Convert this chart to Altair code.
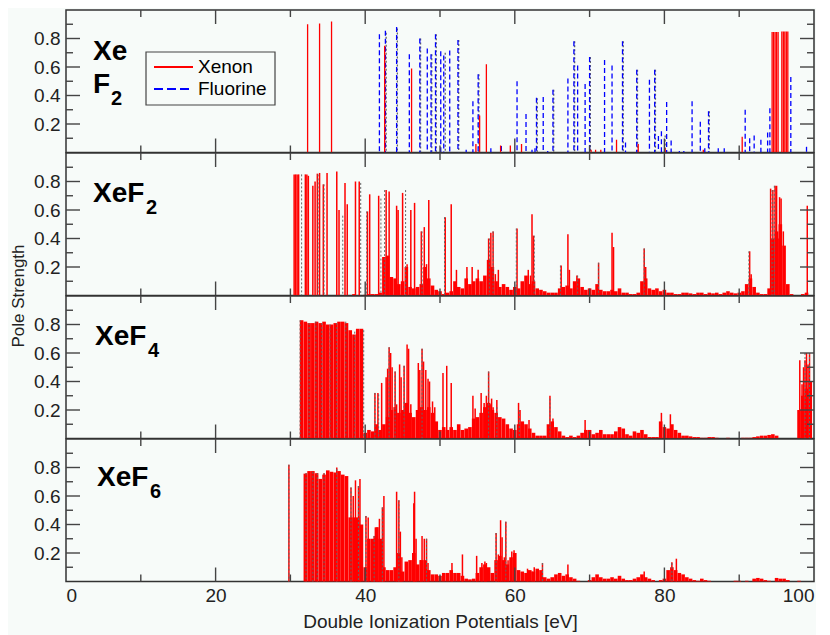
import altair as alt
import pandas as pd

FONT = "Liberation Sans"
RED = "#ff0000"
BLUE = "#0000ff"
GRAY = "#666666"
TICK = "#444444"
BG = "#f7fbf9"

# ---------------- data ----------------
# panel 1 (Xe F2 decomposition)
XE_X = [32.3, 33.9, 35.5, 42.6, 46.2, 54.8, 55.3, 56.2, 58.1, 59.4, 60.9, 70.2, 70.8, 71.5, 73.6,
        76.5, 80.1, 85.2, 90.4, 94.4, 94.6, 94.8, 95.0, 95.2, 95.7, 95.9, 96.1, 96.3, 96.5]
XE_Y = [0.90, 0.905, 0.92, 0.75, 0.59, 0.06, 0.26, 0.62, 0.05, 0.05, 0.06, 0.02, 0.02, 0.02, 0.09,
        0.06, 0.03, 0.02, 0.11, 0.845, 0.845, 0.845, 0.845, 0.845, 0.85, 0.85, 0.85, 0.85, 0.85]
FL_X = [41.9, 42.7, 44.2, 45.9, 47.3, 48.3, 48.8, 49.4, 50.1, 50.5, 51.3, 52.4, 53.5, 54.4, 55.1,
        56.8, 58.2, 60.3, 61.5, 62.3, 62.7, 62.9, 63.8, 64.4, 65.1, 67.1, 67.9, 68.4, 69.4, 70.0,
        72.0, 73.0, 74.4, 74.8, 76.3, 78.0, 78.7, 79.2, 79.6, 80.3, 80.9, 82.0, 82.6, 83.7, 84.8,
        85.4, 85.9, 87.2, 88.0, 90.8, 91.4, 92.0, 92.9, 93.8, 94.1, 96.9, 99.0]
FL_Y = [0.83, 0.855, 0.88, 0.69, 0.80, 0.73, 0.69, 0.83, 0.71, 0.68, 0.715, 0.79, 0.02, 0.36, 0.55,
        0.03, 0.045, 0.50, 0.27, 0.02, 0.03, 0.385, 0.39, 0.01, 0.44, 0.52, 0.78, 0.61, 0.48, 0.67,
        0.65, 0.61, 0.78, 0.07, 0.58, 0.51, 0.58, 0.115, 0.15, 0.355, 0.085, 0.01, 0.01, 0.36, 0.215,
        0.03, 0.29, 0.03, 0.03, 0.30, 0.1, 0.12, 0.09, 0.14, 0.31, 0.53, 0.04]
TO_X = [42.8, 44.3, 47.4, 48.9, 49.5, 50.7, 52.5, 55.2, 63.0, 65.2, 68.0, 70.1, 74.5, 76.4, 78.8, 80.1, 86.0]
TO_Y = [0.84, 0.87, 0.80, 0.69, 0.83, 0.70, 0.79, 0.55, 0.38, 0.44, 0.78, 0.67, 0.78, 0.58, 0.58, 0.12, 0.29]

# dense low-lying states, read in 0.5 eV bins
BAND_X = [
    30.0, 30.5, 31.0, 31.5, 32.0, 32.5, 33.0, 33.5, 34.0, 34.5,
    35.0, 35.5, 36.0, 36.5, 37.0, 37.5, 38.0, 38.5, 39.0, 39.5,
    40.0, 40.5, 41.0, 41.5, 42.0, 42.5, 43.0, 43.5, 44.0, 44.5,
    45.0, 45.5, 46.0, 46.5, 47.0, 47.5, 48.0, 48.5, 49.0, 49.5,
    50.0, 50.5, 51.0, 51.5, 52.0, 52.5, 53.0, 53.5, 54.0, 54.5,
    55.0, 55.5, 56.0, 56.5, 57.0, 57.5, 58.0, 58.5, 59.0, 59.5,
    60.0, 60.5, 61.0, 61.5, 62.0, 62.5, 63.0, 63.5, 64.0, 64.5,
    65.0, 65.5, 66.0, 66.5, 67.0, 67.5, 68.0, 68.5, 69.0, 69.5,
    70.0, 70.5, 71.0, 71.5, 72.0, 72.5, 73.0, 73.5, 74.0, 74.5,
    75.0, 75.5, 76.0, 76.5, 77.0, 77.5, 78.0, 78.5, 79.0, 79.5,
    80.0, 80.5, 81.0, 81.5, 82.0, 82.5, 83.0, 83.5, 84.0, 84.5,
    85.0, 85.5, 86.0, 86.5, 87.0, 87.5, 88.0, 88.5, 89.0, 89.5,
    90.0, 90.5, 91.0, 91.5, 92.0, 92.5, 93.0, 93.5, 94.0, 94.5,
    95.0, 95.5, 96.0, 96.5, 97.0, 97.5, 98.0, 98.5, 99.0, 99.5,
]
P2_BAND = [
    0, 0, 0, 0, 0, 0, 0, 0, 0, 0,
    0, 0, 0, 0, 0, 0, 0, 0.01, 0, 0,
    0.005, 0.01, 0.01, 0.01, 0.02, 0.27, 0.28, 0.13, 0.12, 0.08,
    0.1, 0.2, 0.06, 0.05, 0.06, 0.08, 0.2, 0.12, 0.07, 0.04,
    0.03, 0.01, 0.02, 0.03, 0.1, 0.06, 0.05, 0.12, 0.08, 0.1,
    0.12, 0.1, 0.14, 0.25, 0.2, 0.1, 0.06, 0.08, 0.06, 0.04,
    0.06, 0.05, 0.1, 0.14, 0.08, 0.1, 0.05, 0.04, 0.03, 0.02,
    0.02, 0.02, 0.05, 0.06, 0.07, 0.05, 0.1, 0.12, 0.06, 0.04,
    0.05, 0.04, 0.08, 0.04, 0.03, 0.03, 0.04, 0.03, 0.05, 0.02,
    0.02, 0.01, 0.01, 0.02, 0.1, 0.12, 0.05, 0.04, 0.05, 0.03,
    0.04, 0.02, 0.02, 0.01, 0.01, 0.02, 0.02, 0.015, 0.01, 0.02,
    0.02, 0.01, 0.02, 0.015, 0.02, 0.01, 0.02, 0.03, 0.02, 0.015,
    0.02, 0.03, 0.08, 0.12, 0.06, 0.02, 0.01, 0.01, 0.05, 0.4,
    0.45, 0.5, 0.35, 0.08, 0.01, 0, 0, 0.01, 0.02, 0,
]
P3_BAND = [
    0, 0, 0, 0.83, 0.82, 0.81, 0.81, 0.82, 0.81, 0.82,
    0.80, 0.80, 0.81, 0.82, 0.82, 0.81, 0.76, 0.73, 0.77, 0.77,
    0.04, 0.06, 0.05, 0.1, 0.06, 0.1, 0.15, 0.2, 0.22, 0.18,
    0.2, 0.25, 0.18, 0.15, 0.2, 0.22, 0.2, 0.22, 0.18, 0.12,
    0.06, 0.08, 0.06, 0.08, 0.06, 0.1, 0.06, 0.07, 0.08, 0.14,
    0.15, 0.18, 0.22, 0.25, 0.2, 0.18, 0.15, 0.14, 0.1, 0.07,
    0.06, 0.1, 0.12, 0.1, 0.07, 0.04, 0.02, 0.02, 0.02, 0.1,
    0.12, 0.08, 0.05, 0.02, 0.01, 0.02, 0.01, 0.02, 0.04, 0.06,
    0.06, 0.03, 0.04, 0.06, 0.03, 0.03, 0.03, 0.05, 0.08, 0.07,
    0.03, 0.02, 0.05, 0.04, 0.06, 0.03, 0.01, 0.01, 0.01, 0.12,
    0.08, 0.07, 0.1, 0.06, 0.04, 0.02, 0.02, 0.015, 0.01, 0.01,
    0.005, 0.005, 0.01, 0.01, 0.005, 0, 0, 0.005, 0, 0,
    0, 0.005, 0.005, 0.005, 0.01, 0.015, 0.02, 0.02, 0.025, 0.03,
    0.02, 0, 0, 0, 0, 0, 0.2, 0.3, 0.35, 0.4,
]
P4_BAND = [
    0, 0, 0, 0, 0.757, 0.775, 0.775, 0.76, 0.72, 0.75,
    0.78, 0.77, 0.765, 0.775, 0.75, 0.74, 0.45, 0.45, 0.45, 0.4,
    0.1, 0.3, 0.3, 0.38, 0.3, 0.1, 0.08, 0.08, 0.1, 0.2,
    0.07, 0.14, 0.15, 0.2, 0.12, 0.15, 0.15, 0.08, 0.05, 0.05,
    0.04, 0.06, 0.06, 0.08, 0.06, 0.06, 0.04, 0.02, 0.015, 0.02,
    0.06, 0.1, 0.12, 0.1, 0.06, 0.15, 0.18, 0.15, 0.12, 0.17,
    0.2, 0.08, 0.07, 0.06, 0.08, 0.07, 0.09, 0.08, 0.03, 0.02,
    0.03, 0.05, 0.06, 0.04, 0.05, 0.03, 0.02, 0.005, 0, 0,
    0.01, 0.03, 0.05, 0.03, 0.02, 0.02, 0.03, 0.02, 0.04, 0.02,
    0.01, 0.01, 0.02, 0.03, 0.05, 0.03, 0.02, 0.01, 0, 0.01,
    0.02, 0.08, 0.1, 0.08, 0.06, 0.05, 0.03, 0.02, 0.01, 0.005,
    0.02, 0.01, 0.005, 0, 0, 0, 0, 0, 0, 0.005,
    0.005, 0, 0.005, 0, 0.02, 0.025, 0.02, 0.01, 0.005, 0,
    0.025, 0.02, 0.02, 0.01, 0, 0, 0.005, 0, 0, 0,
]

# distinct strong lines
P2_X = [30.5, 30.7, 30.9, 31.1, 32.0, 32.2, 32.4, 33.0, 33.3, 33.6, 33.9, 34.4, 34.9, 36.2, 36.5,
        37.3, 37.6, 38.7, 39.2, 40.3, 40.6, 41.8, 42.8, 43.2, 44.2, 44.4, 45.0, 45.6, 46.1, 46.6,
        47.5, 47.9, 48.2, 48.5, 50.7, 51.5, 52.2, 53.6, 54.3, 55.1, 56.5, 56.8, 57.1, 57.4, 57.8,
        60.3, 61.8, 62.1, 62.3, 62.5, 66.2, 67.1, 67.3, 68.3, 71.2, 73.0, 73.2, 77.3, 77.5, 91.4,
        91.6, 94.2, 94.5, 94.8, 95.0, 95.2, 95.4, 95.6, 95.9, 99.1]
P2_Y = [0.85, 0.85, 0.85, 0.85, 0.85, 0.85, 0.84, 0.77, 0.80, 0.855, 0.86, 0.78, 0.86, 0.87, 0.60,
        0.79, 0.64, 0.80, 0.80, 0.59, 0.71, 0.70, 0.74, 0.73, 0.63, 0.60, 0.72, 0.22, 0.60, 0.65,
        0.45, 0.48, 0.22, 0.67, 0.55, 0.64, 0.18, 0.20, 0.20, 0.18, 0.40, 0.44, 0.45, 0.15, 0.18,
        0.47, 0.18, 0.14, 0.57, 0.42, 0.21, 0.43, 0.18, 0.14, 0.23, 0.44, 0.34, 0.33, 0.20, 0.31,
        0.15, 0.75, 0.74, 0.77, 0.77, 0.40, 0.69, 0.68, 0.45, 0.63]
P2_GX = [31.5, 33.7, 34.5, 37.0, 39.4, 40.2, 42.1, 42.6, 45.4, 47.6, 50.6, 56.6, 57.1, 60.2, 62.6,
         66.1, 68.4, 71.2, 77.3, 91.3, 94.4, 94.7]
P2_GY = [0.85, 0.85, 0.78, 0.56, 0.79, 0.59, 0.68, 0.74, 0.74, 0.45, 0.55, 0.40, 0.45, 0.47, 0.42,
         0.21, 0.14, 0.23, 0.33, 0.31, 0.74, 0.77]

P3_X = [41.3, 41.7, 42.2, 42.8, 43.0, 43.2, 43.4, 43.6, 44.0, 44.2, 44.6, 44.8, 45.2, 45.6, 45.8,
        46.1, 47.1, 47.3, 47.6, 47.8, 48.1, 48.4, 48.6, 49.0, 49.3, 50.4, 50.9, 51.5, 54.4, 54.7,
        55.5, 55.9, 56.2, 56.5, 56.7, 56.9, 57.1, 57.6, 60.5, 60.7, 61.9, 64.7, 65.1, 69.4, 79.6,
        80.8, 98.1, 98.4, 98.6, 98.8, 99.0, 99.2, 99.4, 99.6]
P3_Y = [0.32, 0.32, 0.39, 0.43, 0.49, 0.64, 0.60, 0.50, 0.47, 0.24, 0.52, 0.43, 0.51, 0.66, 0.63,
        0.24, 0.53, 0.48, 0.63, 0.54, 0.48, 0.42, 0.40, 0.26, 0.22, 0.46, 0.51, 0.39, 0.30, 0.21,
        0.32, 0.25, 0.30, 0.47, 0.24, 0.28, 0.22, 0.27, 0.25, 0.20, 0.13, 0.30, 0.14, 0.13, 0.18,
        0.17, 0.55, 0.38, 0.50, 0.55, 0.60, 0.52, 0.60, 0.40]
P3_GX = [31.3, 32.5, 33.4, 34.2, 35.3, 36.2, 37.4, 38.6, 39.8, 41.3, 41.8, 43.2, 44.0, 45.2, 47.6,
         56.5, 57.6, 60.6, 64.7, 98.8, 99.4]
P3_GY = [0.83, 0.81, 0.82, 0.81, 0.80, 0.81, 0.82, 0.75, 0.76, 0.32, 0.31, 0.64, 0.47, 0.51, 0.63,
         0.47, 0.22, 0.20, 0.28, 0.60, 0.60]

P4_X = [29.8, 32.1, 33.6, 34.5, 36.2, 38.1, 38.4, 38.7, 39.1, 39.3, 40.1, 40.4, 40.9, 41.2, 41.5,
        41.7, 41.9, 42.1, 42.3, 42.5, 44.2, 44.5, 44.7, 44.9, 46.5, 46.6, 46.8, 47.4, 47.6, 47.9,
        48.2, 48.4, 51.6, 53.0, 54.9, 55.6, 56.0, 56.2, 57.5, 57.8, 58.1, 58.3, 58.6, 58.8, 59.1,
        59.6, 59.9, 61.7, 62.3, 62.6, 63.7, 67.1, 77.3, 81.0, 81.6]
P4_Y = [0.82, 0.76, 0.76, 0.76, 0.80, 0.66, 0.60, 0.71, 0.67, 0.72, 0.46, 0.45, 0.29, 0.32, 0.38,
        0.38, 0.44, 0.28, 0.52, 0.60, 0.63, 0.57, 0.35, 0.17, 0.55, 0.63, 0.30, 0.15, 0.32, 0.30,
        0.30, 0.13, 0.13, 0.19, 0.18, 0.13, 0.14, 0.13, 0.34, 0.19, 0.43, 0.31, 0.17, 0.42, 0.15,
        0.21, 0.22, 0.09, 0.07, 0.10, 0.13, 0.12, 0.07, 0.135, 0.16]
P4_GX = [29.8, 32.1, 33.0, 33.6, 34.5, 36.2, 38.1, 39.1, 40.1, 41.2, 42.3, 44.5, 48.2, 57.5, 58.8, 63.7, 81.0]
P4_GY = [0.82, 0.76, 0.77, 0.76, 0.76, 0.79, 0.66, 0.67, 0.46, 0.32, 0.52, 0.57, 0.30, 0.34, 0.42, 0.13, 0.13]

KINDS = ["Xenon", "Fluorine", "Total"]
LEGEND_NAMES = ["Xenon", "Fluorine"]
X_LABELS = [0, 20, 40, 60, 80, 100]
Y_LABELS = [0.2, 0.4, 0.6, 0.8]
X_MAJOR = [20, 40, 60, 80]
X_MINOR = [10, 30, 50, 70, 90]
Y_MAJOR = [0.2, 0.4, 0.6, 0.8]
Y_MINOR = [0.1, 0.3, 0.5, 0.7, 0.9]

# ---------------- layout ----------------
W, H = 748, 142.5
XS = alt.Scale(domain=[0, 100], nice=False, zero=False)
YS = alt.Scale(domain=[0, 1], nice=False, zero=False)


def y_axis(title=None):
    kw = dict(values=Y_LABELS, format=".1f", tickSize=0, domain=False, grid=False,
              labelFontSize=19, labelColor="#222222", labelPadding=6, labelFont=FONT)
    if title:
        kw.update(title=title, titleX=-48, titleY=H, titleAngle=270, titleAlign="center",
                  titleBaseline="middle", titleFontSize=17, titleFontWeight="normal",
                  titleColor="#222222", titleFont=FONT)
    else:
        kw["title"] = None
    return alt.Axis(**kw)


def x_axis():
    return alt.Axis(values=X_LABELS, format="d", tickSize=0, domain=False, grid=False,
                    labelFontSize=19, labelColor="#222222", labelPadding=5, labelFont=FONT,
                    title="Double Ionization Potentials [eV]", titleFontSize=19,
                    titleFontWeight="normal", titleColor="#222222", titlePadding=7, titleFont=FONT)


def ticks():
    out = []
    for vals, L in ((Y_MAJOR, 14), (Y_MINOR, 7)):
        base = alt.Chart(pd.DataFrame({"v": vals})).mark_rule(color=TICK, strokeWidth=1.4)
        out.append(base.encode(y=alt.Y("v:Q", scale=YS, axis=None), x=alt.value(0), x2=alt.value(L)))
        out.append(base.encode(y=alt.Y("v:Q", scale=YS, axis=None), x=alt.value(W), x2=alt.value(W - L)))
    for vals, L in ((X_MAJOR, 14), (X_MINOR, 7)):
        base = alt.Chart(pd.DataFrame({"v": vals})).mark_rule(color=TICK, strokeWidth=1.4)
        out.append(base.encode(x=alt.X("v:Q", scale=XS, axis=None), y=alt.value(H), y2=alt.value(H - L)))
        out.append(base.encode(x=alt.X("v:Q", scale=XS, axis=None), y=alt.value(0), y2=alt.value(L)))
    return out


def label(text, px, py, size, bold=True, align="left", baseline="alphabetic"):
    return alt.Chart(pd.DataFrame({"t": [text]})).mark_text(
        align=align, baseline=baseline, font=FONT, fontSize=size,
        fontWeight="bold" if bold else "normal", color="black"
    ).encode(text="t:N", x=alt.value(px), y=alt.value(py))


def spikes(xs, ys, color, width, dash=None):
    df = pd.DataFrame({"x": xs, "y": ys})
    kw = dict(color=color, strokeWidth=width)
    if dash:
        kw["strokeDash"] = dash
    return alt.Chart(df).mark_rule(**kw).encode(
        x=alt.X("x:Q", scale=XS, axis=None),
        y=alt.Y("y:Q", scale=YS, axis=None),
        y2=alt.datum(0),
    )


def band(ys, yax, xax=None):
    df = pd.DataFrame({"x": BAND_X, "y": ys})
    df = df[df["y"] > 0]
    return alt.Chart(df).mark_rule(color=RED, strokeWidth=3.6).encode(
        x=alt.X("x:Q", scale=XS, axis=xax),
        y=alt.Y("y:Q", scale=YS, axis=yax),
        y2=alt.datum(0),
    )


def legend_box():
    box = alt.Chart(pd.DataFrame({"t": ["box"]})).mark_rect(
        fill=BG, stroke="#444444", strokeWidth=1.2
    ).encode(x=alt.value(80), x2=alt.value(209), y=alt.value(42), y2=alt.value(95))
    red = alt.Chart(pd.DataFrame({"t": ["r"]})).mark_rule(color=RED, strokeWidth=2).encode(
        x=alt.value(88), x2=alt.value(127), y=alt.value(57))
    blue = alt.Chart(pd.DataFrame({"t": ["b"]})).mark_rule(
        color=BLUE, strokeWidth=2, strokeDash=[9, 4]).encode(
        x=alt.value(88), x2=alt.value(127), y=alt.value(79))
    t1 = label(LEGEND_NAMES[0], 132, 57, 19, bold=False, baseline="middle")
    t2 = label(LEGEND_NAMES[1], 132, 79, 19, bold=False, baseline="middle")
    return [box, red, blue, t1, t2]


# panel 1
df1 = pd.concat([
    pd.DataFrame({"x": TO_X, "y": TO_Y, "kind": "Total"}),
    pd.DataFrame({"x": FL_X, "y": FL_Y, "kind": "Fluorine"}),
    pd.DataFrame({"x": XE_X, "y": XE_Y, "kind": "Xenon"}),
], ignore_index=True)

p1_rules = alt.Chart(df1).mark_rule(strokeWidth=1.3).encode(
    x=alt.X("x:Q", scale=XS, axis=None),
    y=alt.Y("y:Q", scale=YS, axis=y_axis()),
    y2=alt.datum(0),
    color=alt.Color("kind:N", scale=alt.Scale(domain=KINDS, range=[RED, BLUE, GRAY]), legend=None),
    strokeDash=alt.StrokeDash("kind:N", scale=alt.Scale(domain=KINDS, range=[[1, 0], [5, 3], [2, 2]]), legend=None),
)
p1 = alt.layer(
    p1_rules, *ticks(), *legend_box(),
    label("Xe", 27, 50, 28), label("F", 27, 83, 28), label("2", 45, 95, 20),
).resolve_axis(x="independent", y="independent").properties(width=W, height=H)

p2 = alt.layer(
    band(P2_BAND, y_axis("Pole Strength")),
    spikes(P2_X, P2_Y, RED, 1.5),
    spikes(P2_GX, P2_GY, GRAY, 1, [2, 2]),
    *ticks(),
    label("XeF", 27, 49, 28), label("2", 80, 61, 20),
).resolve_axis(x="independent", y="independent").properties(width=W, height=H)

p3 = alt.layer(
    band(P3_BAND, y_axis()),
    spikes(P3_X, P3_Y, RED, 1.5),
    spikes(P3_GX, P3_GY, GRAY, 1, [2, 2]),
    *ticks(),
    label("XeF", 29, 49, 28), label("4", 82, 61, 20),
).resolve_axis(x="independent", y="independent").properties(width=W, height=H)

p4 = alt.layer(
    band(P4_BAND, y_axis(), x_axis()),
    spikes(P4_X, P4_Y, RED, 1.5),
    spikes(P4_GX, P4_GY, GRAY, 1, [2, 2]),
    *ticks(),
    label("XeF", 31, 47, 28), label("6", 84, 59, 20),
).resolve_axis(x="independent", y="independent").properties(width=W, height=H)

chart = alt.vconcat(p1, p2, p3, p4, spacing=0, bounds="flush").properties(
    padding={"left": 0, "top": 0, "right": 0, "bottom": 2},
    background=BG,
).configure(font=FONT).configure_view(stroke="#333333", strokeWidth=1.5, fill=BG)

chart.save("out.html", embed_options={"renderer": "svg", "actions": False})
